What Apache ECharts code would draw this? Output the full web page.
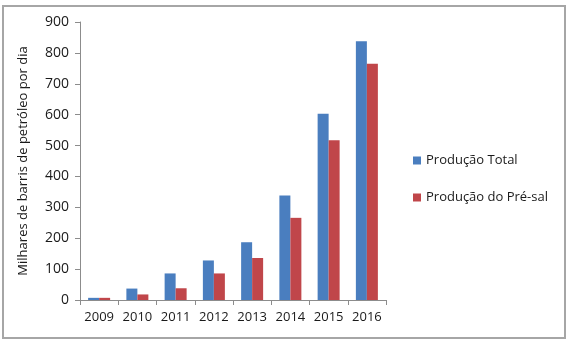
<!DOCTYPE html>
<html>
<head>
<meta charset="utf-8">
<script src="https://cdn.jsdelivr.net/npm/echarts@6/dist/echarts.min.js"></script>
<style>
  html, body { margin: 0; padding: 0; background: #fff; }
  .frame {
    position: absolute; left: 2px; top: 5px;
    width: 560px; height: 330px;
    border: 2px solid #a6a6a6;
  }
  #chart { position: absolute; left: 0; top: 0; width: 571px; height: 342px; }
</style>
</head>
<body>
<div class="frame"></div>
<div id="chart"></div>
<script>
const years = ["2009", "2010", "2011", "2012", "2013", "2014", "2015", "2016"];
const total = [7, 37, 86, 128, 187, 338, 603, 838];
const preSal = [7, 18, 38, 86, 136, 266, 517, 765];
const legendNames = ["Produção Total", "Produção do Pré-sal"];

const chart = echarts.init(document.getElementById("chart"));
const font = "'Open Sans', sans-serif";

chart.setOption({
  animation: false,
  textStyle: { fontFamily: font },
  grid: { left: 80, right: 185, top: 22, bottom: 42 },
  legend: {
    orient: "vertical",
    left: 408,
    top: 149,
    itemWidth: 8,
    itemHeight: 8,
    itemGap: 24,
    icon: "rect",
    textStyle: { fontSize: 13, color: "#1a1a1a", fontFamily: font },
    data: legendNames,
  },
  xAxis: {
    type: "category",
    data: years,
    axisLine: { lineStyle: { color: "#8c8c8c" } },
    axisTick: { show: true, length: 5, lineStyle: { color: "#8c8c8c" } },
    axisLabel: { color: "#1a1a1a", fontSize: 13, margin: 11, interval: 0 },
  },
  yAxis: {
    type: "value",
    min: 0,
    max: 900,
    interval: 100,
    name: "Milhares de barris de petróleo por dia",
    nameLocation: "middle",
    nameGap: 50,
    nameRotate: 90,
    nameTextStyle: { fontSize: 13, color: "#1a1a1a" },
    axisLine: { show: true, lineStyle: { color: "#8c8c8c" } },
    axisTick: { show: true, length: 5, lineStyle: { color: "#8c8c8c" } },
    axisLabel: { color: "#1a1a1a", fontSize: 14, margin: 11 },
    splitLine: { show: false },
  },
  series: [
    {
      name: legendNames[0],
      type: "bar",
      data: total,
      barWidth: 11,
      barGap: "0%",
      itemStyle: { color: "#4a7ebf" },
    },
    {
      name: legendNames[1],
      type: "bar",
      data: preSal,
      barWidth: 11,
      itemStyle: { color: "#c0464a" },
    },
  ],
});
</script>
</body>
</html>
